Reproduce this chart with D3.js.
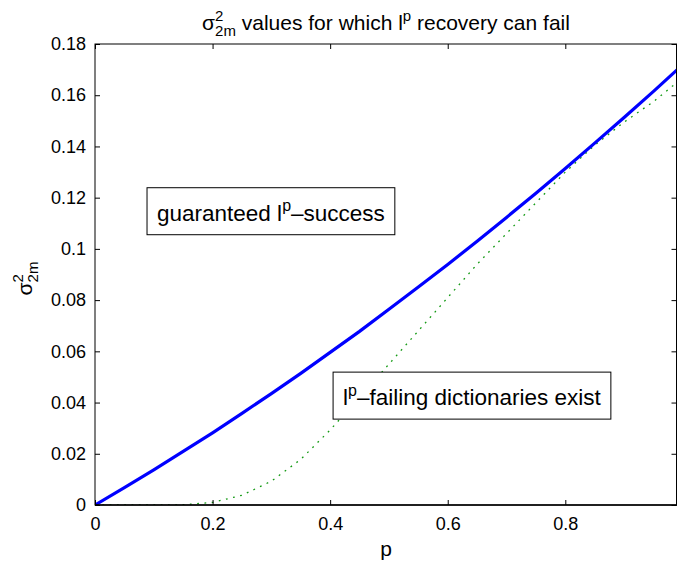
<!DOCTYPE html>
<html>
<head>
<meta charset="utf-8">
<script src="https://cdn.jsdelivr.net/npm/d3@7"></script>
<style>
  html, body { margin: 0; padding: 0; background: #fff; }
  svg { display: block; font-family: "Liberation Sans", Arial, Helvetica, sans-serif; }
</style>
</head>
<body>
<svg id="chart" width="677" height="561"></svg>
<script>
// ---- data ----
const pValues = [0, 0.05, 0.1, 0.15, 0.2, 0.25, 0.3, 0.35, 0.4, 0.45, 0.5, 0.55, 0.6, 0.65, 0.7, 0.75, 0.8, 0.85, 0.9, 0.95, 0.99];
const guaranteedBound = [0, 0.0068, 0.0137, 0.0209, 0.0282, 0.0358, 0.0435, 0.0514, 0.0596, 0.0678, 0.0764, 0.0851, 0.0939, 0.1030, 0.1123, 0.1217, 0.1314, 0.1413, 0.1513, 0.1615, 0.1699];
const failingBound = [0, 0, 0, 0.0001, 0.0010, 0.0038, 0.0093, 0.0178, 0.0293, 0.0420, 0.0550, 0.0680, 0.0810, 0.0940, 0.1060, 0.1180, 0.1300, 0.1405, 0.1495, 0.1575, 0.1650];
const xTicks = [0, 0.2, 0.4, 0.6, 0.8];
const xTickLabels = ["0", "0.2", "0.4", "0.6", "0.8"];
const yTicks = [0, 0.02, 0.04, 0.06, 0.08, 0.1, 0.12, 0.14, 0.16, 0.18];
const yTickLabels = ["0", "0.02", "0.04", "0.06", "0.08", "0.1", "0.12", "0.14", "0.16", "0.18"];
const xDomain = [0, 0.99];
const yDomain = [0, 0.18];
const annotations = [
  { p: 0.1055, v: 0.111, parts: [["guaranteed l", "n"], ["p", "sup"], ["\u2013success", "n"]] },
  { p: 0.422, v: 0.039, parts: [["l", "n"], ["p", "sup"], ["\u2013failing dictionaries exist", "n"]] }
];

// ---- layout ----
const svg = d3.select("#chart");
const L = 95, R = 677, T = 44, B = 505;
const x = d3.scaleLinear().domain(xDomain).range([L, R]);
const y = d3.scaleLinear().domain(yDomain).range([B, T]);
const BIG = 21, SMALL = 15, TICK = 18, BOX = 22.5, BOXSMALL = 16;

// rich text helper: sequential pieces; "sup" / "sub" pieces; sub after sup stacks at same x
function richText(g, parts, size, small) {
  let cx = 0, lastStart = 0, lastWasSup = false;
  parts.forEach(([t, kind]) => {
    const el = g.append("text").attr("font-size", kind === "n" ? size : small)
      .attr("fill", "#000").style("white-space", "pre").text(t);
    let px = cx;
    if (kind === "sub" && lastWasSup) px = lastStart;
    el.attr("x", px).attr("y", kind === "sup" ? -size * 0.42 : kind === "sub" ? size * 0.3 : 0);
    const w = el.node().getComputedTextLength();
    if (kind === "sub" && lastWasSup) cx = Math.max(cx, px + w); else { lastStart = px; cx = px + w; }
    lastWasSup = kind === "sup";
  });
  return cx;
}

// clip
svg.append("defs").append("clipPath").attr("id", "plotclip")
  .append("rect").attr("x", L).attr("y", T).attr("width", R - L).attr("height", B - T);

// lines
const line = d3.line().x((d, i) => x(pValues[i])).y(d => y(d));
svg.append("path").datum(failingBound).attr("d", line)
  .attr("fill", "none").attr("stroke", "#139a13").attr("stroke-width", 1.3)
  .attr("stroke-dasharray", "1.8,5.5").attr("clip-path", "url(#plotclip)");
svg.append("path").datum(guaranteedBound).attr("d", line)
  .attr("fill", "none").attr("stroke", "#0000ff").attr("stroke-width", 3.2)
  .attr("clip-path", "url(#plotclip)");

// axes box
svg.append("rect").attr("x", L).attr("y", T).attr("width", R - L - 0.5).attr("height", B - T)
  .attr("fill", "none").attr("stroke", "#000").attr("stroke-width", 1);
svg.append("line").attr("x1", L).attr("x2", R).attr("y1", B).attr("y2", B).attr("stroke", "#000").attr("stroke-width", 1.6);

const tickLen = 5;
const axB = svg.append("g").attr("transform", `translate(0,${B})`)
  .call(d3.axisBottom(x).tickValues(xTicks).tickSize(-tickLen).tickPadding(12).tickFormat((d, i) => xTickLabels[i]));
const axT = svg.append("g").attr("transform", `translate(0,${T})`)
  .call(d3.axisTop(x).tickValues(xTicks).tickSize(-tickLen).tickFormat(""));
const axL = svg.append("g").attr("transform", `translate(${L},0)`)
  .call(d3.axisLeft(y).tickValues(yTicks).tickSize(-tickLen).tickPadding(9).tickFormat((d, i) => yTickLabels[i]));
const axR = svg.append("g").attr("transform", `translate(${R - 0.5},0)`)
  .call(d3.axisRight(y).tickValues(yTicks).tickSize(-tickLen).tickFormat(""));
[axB, axT, axL, axR].forEach(a => {
  a.select(".domain").remove();
  a.selectAll("line").attr("stroke", "#000");
  a.selectAll("text").attr("font-size", TICK).attr("fill", "#000")
    .attr("font-family", "Liberation Sans, Arial, sans-serif");
});

// title
const tg = svg.append("g");
const tw = richText(tg, [["\u03C3", "n"], ["2", "sup"], ["2m", "sub"], [" values for which l", "n"], ["p", "sup"], [" recovery can fail", "n"]], BIG, SMALL);
tg.attr("transform", `translate(${(L + R) / 2 - tw / 2},30)`);

// x label
svg.append("text").attr("x", (L + R) / 2).attr("y", 556).attr("text-anchor", "middle")
  .attr("font-size", BIG).text("p");

// y label
const yg = svg.append("g");
const yw = richText(yg, [["\u03C3", "n"], ["2", "sup"], ["2m", "sub"]], BIG, SMALL);
yg.attr("transform", `translate(32,${(T + B) / 2 + yw / 2 + 4}) rotate(-90)`);

// annotation boxes
annotations.forEach(a => {
  const g = svg.append("g").attr("transform", `translate(${x(a.p)},${y(a.v)})`);
  const bg = g.append("rect");
  const tg2 = g.append("g");
  const w = richText(tg2, a.parts, BOX, BOXSMALL);
  bg.attr("x", -10).attr("y", -33).attr("width", w + 20).attr("height", 47)
    .attr("fill", "#fff").attr("stroke", "#000").attr("stroke-width", 1);
});
</script>
</body>
</html>
